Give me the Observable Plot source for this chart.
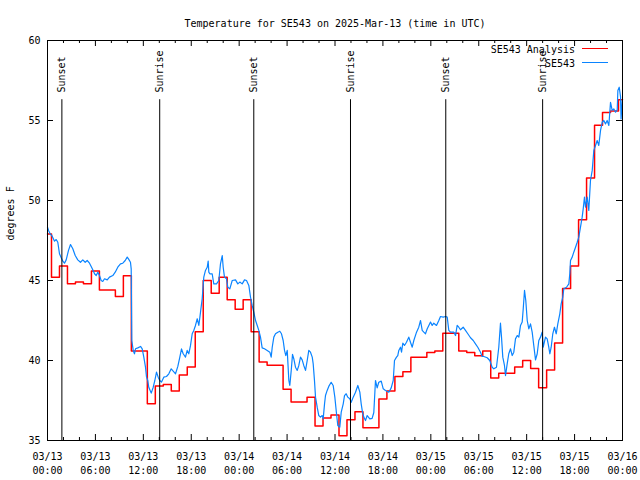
<!DOCTYPE html>
<html><head><meta charset="utf-8">
<script src="https://cdn.jsdelivr.net/npm/d3@7"></script>
<script src="https://cdn.jsdelivr.net/npm/@observablehq/plot@0.6"></script>
<style>html,body{margin:0;padding:0;background:#fff}svg{display:block}</style>
</head><body><div id="chart"></div>
<script>
const titleText = "Temperature for SE543 on 2025-Mar-13 (time in UTC)";
const yAxisLabel = "degrees F";
const seriesNames = ["SE543 Analysis", "SE543"];
const seriesColors = ["#ff0000", "#0a84ff"];

// hourly analysis values, hour 0 .. 72 from 03/13 00:00 UTC
const analysisTemps = [
  47.9, 45.2, 45.9, 44.8, 44.9, 44.8, 45.6, 44.4, 44.4, 44.0,
  45.3, 40.6, 40.6, 37.3, 38.4, 38.5, 38.1, 39.1, 39.6, 41.8,
  45.0, 44.2, 45.2, 43.8, 43.2, 43.8, 41.8, 39.9, 39.7, 39.7,
  38.2, 37.4, 37.4, 37.7, 35.9, 36.4, 36.6, 35.3, 36.3, 36.8,
  35.8, 35.8, 37.6, 38.1, 39.0, 39.3, 40.2, 40.2, 40.5, 40.6,
  41.7, 41.7, 40.6, 40.5, 40.3, 40.6, 38.9, 39.2, 39.2, 39.6,
  40.0, 39.5, 38.3, 39.4, 41.1, 44.5, 45.9, 48.8, 51.4, 54.7,
  55.5, 55.6, 56.3
];

// station observations: [hours since 03/13 00:00 UTC, deg F]
const observedSE543 = [
  [0.00,48.33],[0.13,48.13],[0.38,47.88],[0.54,47.81],[0.88,47.46],[1.09,47.56],[1.29,47.39],[1.50,46.67],[1.72,46.42],[1.92,46.21],
  [2.13,46.08],[2.34,46.29],[2.63,46.88],[2.88,47.25],[3.17,46.98],[3.47,46.56],[3.79,46.29],[4.13,46.14],[4.42,46.29],[4.72,46.14],
  [4.97,46.25],[5.26,46.08],[5.47,45.88],[5.67,45.67],[5.89,45.42],[6.10,45.31],[6.30,45.52],[6.51,45.31],[6.72,45.00],[6.92,44.94],
  [7.14,45.11],[7.48,45.04],[7.76,45.21],[8.18,45.31],[8.48,45.52],[8.80,45.83],[9.14,46.04],[9.43,46.08],[9.73,46.25],[9.98,46.46],
  [10.14,46.35],[10.39,46.14],[10.48,45.73],[10.56,41.25],[10.73,40.63],[10.89,40.42],[11.02,40.73],[11.31,40.79],[11.65,40.88],[11.86,40.73],
  [12.06,40.21],[12.27,39.58],[12.40,38.96],[12.56,38.75],[12.68,38.33],[12.99,37.96],[13.24,38.33],[13.44,38.75],[13.65,39.27],[13.86,38.96],
  [14.06,38.75],[14.28,38.65],[14.56,38.96],[14.90,39.00],[15.19,39.17],[15.49,39.48],[15.74,39.33],[16.03,39.17],[16.32,39.63],[16.57,40.21],
  [16.78,40.73],[16.99,40.42],[17.28,40.21],[17.49,40.63],[17.69,40.42],[17.91,40.94],[18.12,41.67],[18.32,41.88],[18.53,42.19],[18.75,42.61],
  [18.95,42.19],[19.16,43.02],[19.37,43.86],[19.57,45.21],[19.78,45.63],[20.00,45.83],[20.12,46.21],[20.20,45.52],[20.32,45.42],[20.62,45.42],
  [20.82,44.79],[21.16,44.79],[21.45,45.00],[21.66,46.04],[21.88,46.56],[22.00,45.83],[22.16,45.21],[22.41,45.11],[22.58,44.58],[22.83,44.48],
  [23.13,45.00],[23.54,45.04],[23.83,44.79],[24.08,44.90],[24.38,44.79],[24.67,45.04],[24.92,45.00],[25.21,44.69],[25.42,43.96],[25.63,43.44],
  [25.83,43.02],[26.05,42.50],[26.26,42.19],[26.46,41.88],[26.67,41.46],[26.88,40.79],[27.17,40.73],[27.51,40.63],[27.84,40.52],[28.01,40.21],
  [28.14,40.83],[28.34,41.46],[28.55,41.67],[28.84,41.77],[29.09,41.83],[29.30,41.67],[29.51,41.25],[29.68,40.63],[29.84,40.31],[30.02,40.63],
  [30.22,38.75],[30.34,38.44],[30.52,39.38],[30.68,40.38],[30.84,40.11],[31.05,39.58],[31.27,39.38],[31.47,39.69],[31.68,40.21],[31.89,40.04],
  [32.09,39.69],[32.31,39.38],[32.52,40.00],[32.72,40.63],[32.93,40.52],[33.15,40.21],[33.27,39.79],[33.43,38.75],[33.56,37.71],[33.77,37.08],
  [33.97,36.56],[34.18,36.46],[34.40,36.56],[34.52,36.35],[34.69,37.29],[34.81,37.81],[35.02,38.13],[35.22,38.38],[35.52,38.64],[35.77,38.44],
  [35.98,37.71],[36.19,36.67],[36.35,35.94],[36.60,35.83],[36.78,36.77],[37.03,37.29],[37.19,37.81],[37.40,37.92],[37.60,37.71],[37.85,37.61],
  [38.03,37.39],[38.28,37.71],[38.57,38.02],[38.86,38.44],[39.11,38.02],[39.28,37.29],[39.44,36.77],[39.61,36.46],[39.82,36.25],[40.03,36.56],
  [40.36,36.35],[40.65,36.38],[40.86,36.75],[41.07,38.75],[41.28,38.29],[41.48,38.64],[41.79,38.71],[42.04,38.23],[42.32,38.13],[42.74,38.02],
  [43.04,38.29],[43.29,38.75],[43.45,40.00],[43.70,40.21],[43.86,40.31],[43.99,40.63],[44.20,40.83],[44.33,40.52],[44.49,41.08],[44.70,40.94],
  [44.95,41.14],[45.24,41.46],[45.45,41.14],[45.67,40.83],[45.87,41.25],[46.21,41.77],[46.49,42.08],[46.71,42.50],[46.92,41.88],[47.12,41.77],
  [47.33,41.67],[47.55,41.98],[47.75,42.19],[47.96,42.40],[48.17,42.19],[48.37,42.33],[48.71,42.19],[49.00,42.50],[49.21,42.75],[49.55,42.71],
  [49.84,42.75],[50.05,42.71],[50.25,41.88],[50.46,41.77],[50.88,41.77],[51.09,41.56],[51.30,42.19],[51.50,42.08],[51.71,41.92],[52.05,42.08],
  [52.34,41.88],[52.63,41.67],[52.97,41.42],[53.31,41.25],[53.59,41.04],[53.88,40.83],[54.22,40.52],[54.43,40.25],[54.63,40.25],[55.06,40.17],
  [55.38,40.00],[55.68,39.58],[55.89,39.48],[56.22,39.58],[56.51,40.83],[56.72,42.33],[56.85,41.46],[57.01,40.21],[57.22,39.69],[57.35,39.06],
  [57.56,39.79],[57.76,40.42],[57.98,40.73],[58.19,40.31],[58.39,40.52],[58.60,41.35],[58.82,41.56],[59.02,41.46],[59.23,42.19],[59.44,42.40],
  [59.57,43.23],[59.73,44.38],[59.89,43.75],[60.07,42.50],[60.27,41.98],[60.48,42.29],[60.69,41.77],[60.89,40.94],[61.11,40.04],[61.32,40.42],
  [61.52,41.25],[61.73,41.46],[61.94,41.77],[62.07,40.83],[62.36,41.46],[62.57,41.35],[62.77,40.83],[62.90,40.42],[63.07,40.83],[63.27,41.67],
  [63.48,42.08],[63.70,41.67],[63.90,42.29],[64.15,42.92],[64.32,43.54],[64.52,43.96],[64.65,44.48],[64.99,44.58],[65.28,44.79],[65.40,45.42],
  [65.49,46.25],[65.70,46.46],[65.90,46.77],[66.12,47.08],[66.33,47.39],[66.53,47.71],[66.74,48.33],[66.95,48.96],[67.08,49.48],[67.24,50.21],
  [67.37,49.58],[67.58,50.21],[67.78,49.38],[67.99,51.25],[68.21,51.88],[68.41,53.13],[68.62,53.44],[68.83,53.75],[69.03,53.44],[69.25,54.38],
  [69.46,54.89],[69.66,55.00],[69.87,54.79],[70.08,55.00],[70.29,54.69],[70.50,56.14],[70.71,55.63],[70.91,55.73],[71.13,55.52],[71.34,55.67],
  [71.42,56.88],[71.59,57.08],[71.76,56.46],[71.82,55.10],[71.97,56.25]
];

const sunEventHours = [1.8, 14.05, 25.83, 37.94, 49.87, 62.0];
const sunEventLabels = ["Sunset", "Sunrise", "Sunset", "Sunrise", "Sunset", "Sunrise"];
const xMajorTickHours = [0, 6, 12, 18, 24, 30, 36, 42, 48, 54, 60, 66, 72];
const xMinorTickHours = [2, 4, 8, 10, 14, 16, 20, 22, 26, 28, 32, 34, 38, 40, 44, 46, 50, 52, 56, 58, 62, 64, 68, 70];
const yTicks = [35, 40, 45, 50, 55, 60];

const t0 = Date.UTC(2025, 2, 13);
const toDate = h => new Date(t0 + h * 3600000);

const analysis = analysisTemps.map((t, i) => ({date: toDate(i), temp: t}));
const observed = observedSE543.map(([h, t]) => ({date: toDate(h), temp: t}));
const sunEvents = sunEventHours.map((h, i) => ({date: toDate(h), label: sunEventLabels[i]}));
const majorDates = xMajorTickHours.map(toDate);
const minorDates = xMinorTickHours.map(toDate);
const fmt = d3.utcFormat("%m/%d\n%H:%M");
const font = "'DejaVu Sans Mono', 'Liberation Mono', monospace";

const legend = (index, scales, values, dimensions) => {
  const g = d3.create("svg:g").attr("font-family", font).attr("font-size", 10).attr("fill", "#000");
  const right = dimensions.width - dimensions.marginRight;
  const top = dimensions.marginTop;
  seriesNames.forEach((name, i) => {
    const y = top + 8.5 + i * 14;
    g.append("text").attr("x", right - 47).attr("y", y + 1).attr("dy", "0.32em")
      .attr("text-anchor", "end").text(name);
    g.append("line").attr("x1", right - 40).attr("x2", right - 14)
      .attr("y1", y).attr("y2", y).attr("stroke", seriesColors[i]).attr("stroke-width", 1);
  });
  return g.node();
};

const chart = Plot.plot({
  width: 640,
  height: 480,
  marginLeft: 47,
  marginRight: 18,
  marginTop: 40,
  marginBottom: 40,
  style: {fontFamily: font, fontSize: "10px", background: "#fff", color: "#000"},
  x: {type: "utc", domain: [toDate(0), toDate(72)], axis: null},
  y: {domain: [35, 60], axis: null},
  marks: [
    Plot.line(analysis, {x: "date", y: "temp", stroke: seriesColors[0], strokeWidth: 1.5, curve: "step"}),
    Plot.line(observed, {x: "date", y: "temp", stroke: seriesColors[1], strokeWidth: 1.2}),
    Plot.ruleX(sunEvents, {x: "date", y1: 35, y2: 56.3, stroke: "#000", strokeWidth: 1}),
    Plot.text(sunEvents, {x: "date", y: 56.75, text: "label", rotate: -90, textAnchor: "start", fill: "#000"}),
    Plot.ruleX(majorDates, {insetTop: 394, stroke: "#000"}),
    Plot.ruleX(majorDates, {insetBottom: 394, stroke: "#000"}),
    Plot.ruleX(minorDates, {insetTop: 397, stroke: "#000"}),
    Plot.ruleX(minorDates, {insetBottom: 397, stroke: "#000"}),
    Plot.ruleY(yTicks, {insetRight: 569, stroke: "#000"}),
    Plot.ruleY(yTicks, {insetLeft: 569, stroke: "#000"}),
    Plot.frame({stroke: "#000", strokeWidth: 1}),
    Plot.text(majorDates, {x: d => d, frameAnchor: "bottom", lineAnchor: "top", dy: 10, lineHeight: 1.4, text: fmt, fill: "#000"}),
    Plot.text(yTicks, {y: d => d, frameAnchor: "left", textAnchor: "end", dx: -7, text: d => String(d), fill: "#000"}),
    Plot.text([yAxisLabel], {frameAnchor: "left", rotate: -90, dx: -37, fill: "#000"}),
    Plot.text([titleText], {frameAnchor: "top", dy: -21, fill: "#000"}),
    legend
  ]
});
document.getElementById("chart").appendChild(chart);
</script>
</body></html>
